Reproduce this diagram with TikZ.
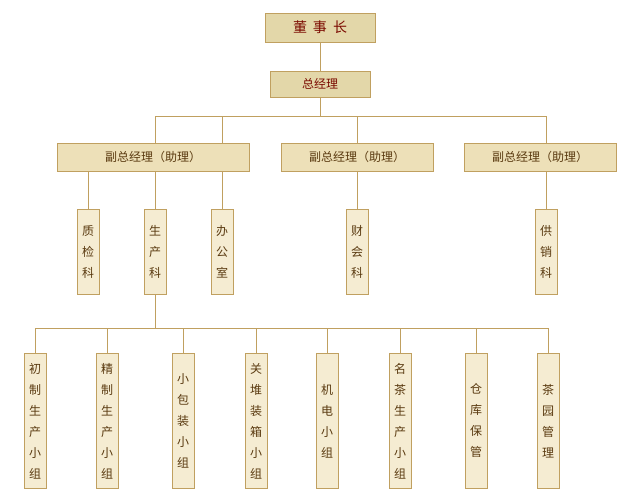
\documentclass[tikz,border=0pt]{standalone}
\usepackage{fontspec}
\setmainfont{Noto Sans CJK SC}
\usepackage{tikz}
\definecolor{linecol}{HTML}{C0A060}
\definecolor{topfill}{HTML}{E3D7A9}
\definecolor{vicefill}{HTML}{EDE0B8}
\definecolor{deptfill}{HTML}{F5ECD2}
\definecolor{topred}{HTML}{7B0A00}
\definecolor{brown}{HTML}{5A3A10}

\begin{document}
\begin{tikzpicture}[
    x=1pt, y=-1pt,
    topbox/.style={
        rectangle,
        draw=linecol,
        fill=topfill,
        thick,
        text=topred,
        inner sep=0pt
    },
    vicebox/.style={
        rectangle,
        draw=linecol,
        fill=vicefill,
        thick,
        text=brown,
        minimum width=192pt,
        minimum height=28pt,
        inner sep=0pt,
        font=\fontsize{12}{14}\selectfont
    },
    deptbox/.style={
        rectangle,
        draw=linecol,
        fill=deptfill,
        thick,
        text=brown,
        minimum width=22pt,
        anchor=north,
        align=center,
        inner sep=0pt,
        font=\fontsize{12}{21}\selectfont
    },
    link/.style={
        draw=linecol,
        thick
    }
]
\useasboundingbox (0,0) rectangle (636,500);

% top
\node[topbox, minimum width=110pt, minimum height=29pt,
      font=\fontsize{14}{16}\selectfont] (chair) at (320,27.5) {董\hspace{6pt}事\hspace{6pt}长};
\node[topbox, minimum width=100pt, minimum height=26pt,
      font=\fontsize{12}{14}\selectfont] (gm) at (320,84) {总经理};

% vice managers
\node[vicebox] (vice1) at (153,157) {副总经理（助理）};
\node[vicebox, minimum width=152pt] (vice2) at (357,157) {副总经理（助理）};
\node[vicebox, minimum width=152pt] (vice3) at (540,157) {副总经理（助理）};

% departments
\node[deptbox, minimum height=85pt] (zhijian) at (88,209) {质\\检\\科};
\node[deptbox, minimum height=85pt] (shengchan) at (155,209) {生\\产\\科};
\node[deptbox, minimum height=85pt] (bangong) at (222,209) {办\\公\\室};
\node[deptbox, minimum height=85pt] (caikuai) at (357,209) {财\\会\\科};
\node[deptbox, minimum height=85pt] (gongxiao) at (546,209) {供\\销\\科};

% groups
\node[deptbox, minimum height=135pt] (g1) at (35,353) {初\\制\\生\\产\\小\\组};
\node[deptbox, minimum height=135pt] (g2) at (107,353) {精\\制\\生\\产\\小\\组};
\node[deptbox, minimum height=135pt] (g3) at (183,353) {小\\包\\装\\小\\组};
\node[deptbox, minimum height=135pt] (g4) at (256,353) {关\\堆\\装\\箱\\小\\组};
\node[deptbox, minimum height=135pt] (g5) at (327,353) {机\\电\\小\\组};
\node[deptbox, minimum height=135pt] (g6) at (400,353) {名\\茶\\生\\产\\小\\组};
\node[deptbox, minimum height=135pt] (g7) at (476,353) {仓\\库\\保\\管};
\node[deptbox, minimum height=135pt] (g8) at (548,353) {茶\\园\\管\\理};

% connectors
\coordinate (bus1) at (320,116);
\draw[link] (chair) -- (gm);
\draw[link] (gm) -- (bus1);
\draw[link] (155,116) -- (546,116);
\foreach \x/\v in {155/vice1, 222/vice1, 357/vice2, 546/vice3}
    \draw[link] (\x,116) -- (\x,143);
\foreach \d in {zhijian, shengchan, bangong}
    \draw[link] (\d.north) -- (\d.north |- vice1.south);
\draw[link] (vice2) -- (caikuai);
\draw[link] (gongxiao.north |- vice3.south) -- (gongxiao.north);

\coordinate (bus2) at (155,328);
\draw[link] (shengchan) -- (bus2);
\draw[link] (g1.north |- bus2) -- (g8.north |- bus2);
\foreach \g in {g1,g2,g3,g4,g5,g6,g7,g8}
    \draw[link] (\g.north |- bus2) -- (\g.north);

\end{tikzpicture}
\end{document}
